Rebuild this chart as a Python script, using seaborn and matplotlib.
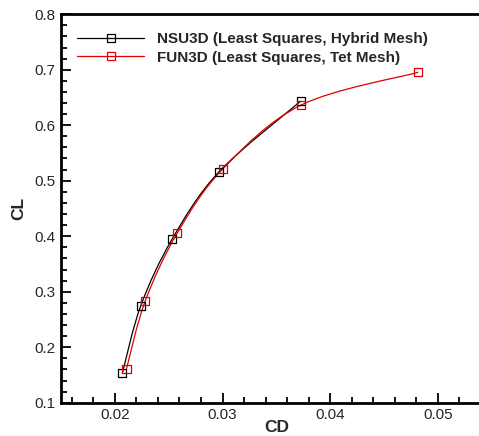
import numpy as np
import matplotlib
matplotlib.use("Agg")
import matplotlib.pyplot as plt
import seaborn as sns
from matplotlib.path import Path
from matplotlib.patches import PathPatch
from matplotlib.lines import Line2D
from matplotlib.ticker import MultipleLocator

nsu_cd = [0.02070, 0.02241, 0.02532, 0.02968, 0.03727]
nsu_cl = [0.1535, 0.2748, 0.3948, 0.5162, 0.6436]
fun_cd = [0.02108, 0.02281, 0.02578, 0.03005, 0.03730, 0.04816]
fun_cl = [0.1610, 0.2827, 0.4051, 0.5216, 0.6364, 0.6953]
labels = ["NSU3D (Least Squares, Hybrid Mesh)", "FUN3D (Least Squares, Tet Mesh)"]
colors = ["#000000", "#e00000"]

sns.set_style("white")
plt.rcParams['font.family'] = ['Liberation Sans', 'DejaVu Sans']

fig = plt.figure(figsize=(4.79, 4.36), dpi=100)
ax = fig.add_axes([61/479, 33.3/436, 430.8/479, 388.5/436])


def smooth_path(xs, ys):
    # Catmull-Rom curve drawn as cubic Bezier segments through the data points
    p = np.column_stack([xs, ys])
    n = len(p)
    verts = [p[0]]
    codes = [Path.MOVETO]
    for i in range(n - 1):
        p0 = p[i - 1] if i > 0 else p[i]
        p1 = p[i]
        p2 = p[i + 1]
        p3 = p[i + 2] if i + 2 < n else p[i + 1]
        c1 = p1 + (p2 - p0) / 6.0
        c2 = p2 - (p3 - p1) / 6.0
        verts += [c1, c2, p2]
        codes += [Path.CURVE4] * 3
    return Path(verts, codes)


for xs, ys, c in [(nsu_cd, nsu_cl, colors[0]), (fun_cd, fun_cl, colors[1])]:
    ax.add_patch(PathPatch(smooth_path(xs, ys), facecolor='none', edgecolor=c, lw=0.9, zorder=2))
    sns.scatterplot(x=xs, y=ys, ax=ax, marker='s', s=34, facecolors='none',
                    edgecolors=c, linewidths=0.9, zorder=3, legend=False)

ax.set_xlim(0.015, 0.055)
ax.set_ylim(0.1, 0.8)
ax.xaxis.set_major_locator(MultipleLocator(0.01))
ax.xaxis.set_minor_locator(MultipleLocator(0.002))
ax.yaxis.set_major_locator(MultipleLocator(0.1))
ax.yaxis.set_minor_locator(MultipleLocator(0.02))
ax.tick_params(which='both', direction='in', bottom=True, left=True, top=False, right=False,
               width=1.3, color='black', labelsize=11, pad=4)
ax.tick_params(which='major', length=7)
ax.tick_params(which='minor', length=4.5)
ax.xaxis.set_major_formatter(matplotlib.ticker.FuncFormatter(lambda v, p: f"{v:.2f}"))
ax.yaxis.set_major_formatter(matplotlib.ticker.FuncFormatter(lambda v, p: f"{v:.1f}"))
for s in ax.spines.values():
    s.set_linewidth(2)
    s.set_color('black')

ax.set_xlabel("CD", fontsize=12.5, fontweight='bold', va='baseline')
ax.xaxis.set_label_coords(0.5, -0.0755)
ax.set_ylabel("CL", fontsize=12.5, fontweight='bold')
ax.yaxis.set_label_coords(-0.081, 0.5)

handles = [Line2D([], [], color=c, lw=0.9, marker='s', ms=6, mfc='none', mec=c, mew=0.9)
           for c in colors]
leg = ax.legend(handles, labels, loc='upper left', bbox_to_anchor=(0.037, 0.954),
                frameon=False, borderaxespad=0, borderpad=0, handlelength=4.4,
                handletextpad=0.85, labelspacing=0.3, markerscale=1,
                prop={'size': 11, 'weight': 'bold'})

fig.savefig("out.png", dpi=100)
